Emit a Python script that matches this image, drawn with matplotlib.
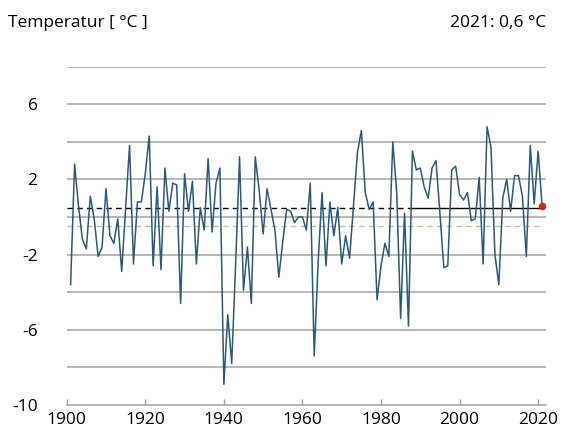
import numpy as np
import matplotlib
matplotlib.use("Agg")
from matplotlib import pyplot as plt

# January mean temperature, one value per year
years = np.arange(1901, 2022)
temps = [
    -3.6, 2.8, 0.6, -1.2, -1.7, 1.1, -0.1, -2.1, -1.6, 1.5,
    -1.0, -1.4, -0.1, -2.9, 0.5, 3.8, -2.5, 0.8, 0.8, 2.3,
    4.3, -2.6, 1.6, -2.8, 2.6, 0.3, 1.8, 1.7, -4.6, 2.3,
    0.3, 1.9, -2.5, 0.5, -0.7, 3.1, -0.8, 1.8, 2.6, -8.9,
    -5.2, -7.8, -2.5, 3.2, -3.9, -1.6, -4.6, 3.2, 1.4, -0.9,
    1.5, 0.4, -0.7, -3.2, -1.3, 0.4, 0.3, -0.3, 0.0, 0.0,
    -0.7, 1.8, -7.4, -2.4, 1.3, -2.6, 0.8, -1.0, 0.5, -2.5,
    -1.0, -2.2, 0.6, 3.4, 4.6, 1.3, 0.4, 0.8, -4.4, -2.6,
    -1.4, -2.1, 4.0, 1.3, -5.4, 0.2, -5.8, 3.5, 2.5, 2.6,
    1.6, 1.0, 2.6, 3.0, 0.2, -2.7, -2.6, 2.5, 2.7, 1.2,
    0.9, 1.3, -0.2, -0.1, 2.1, -2.5, 4.8, 3.7, -2.0, -3.6,
    1.0, 2.0, 0.3, 2.2, 2.2, 1.1, -2.1, 3.8, 0.7, 3.5,
    0.6,
]
mean_recent = 0.45   # black reference line
mean_old = -0.5      # beige reference line

xticks = [1900, 1920, 1940, 1960, 1980, 2000, 2020]
ylabels = {6: "6", 2: "2", -2: "-2", -6: "-6", -10: "-10"}

plt.rcParams["font.family"] = ["Open Sans", "DejaVu Sans"]

fig = plt.figure(figsize=(5.62, 4.44), dpi=100)
ax = fig.add_axes([0.1187, 0.0878, 0.8528, 0.7624])

ax.set_xlim(1900, 2022)
ax.set_ylim(-10, 8.0)

# horizontal grid
for v in range(-8, 9, 2):
    ax.axhline(v, color="#a3a3a3", lw=1.1, zorder=1)

# reference means
ax.plot([1900, 1987.5], [mean_recent, mean_recent], color="black", lw=1.0,
        dashes=(4, 3), zorder=2)
ax.plot([1987.5, 2020.2], [mean_recent, mean_recent], color="black", lw=1.0,
        zorder=2)
ax.plot([1900, 2020.3], [mean_old, mean_old], color="#cdb9a0", lw=1.0,
        dashes=(4, 3), zorder=2)

ax.plot(years, temps, color="#2e5877", lw=1.1, zorder=3)
ax.plot(years[-1], temps[-1], "o", color="#c62a2a", ms=4.5, zorder=4)

for s in ["top", "right", "left"]:
    ax.spines[s].set_visible(False)
ax.spines["bottom"].set_color("#a3a3a3")
ax.spines["bottom"].set_linewidth(1.1)

ax.set_xticks(xticks)
ax.tick_params(axis="x", direction="in", length=4, width=1, color="#a3a3a3",
               labelsize=12.5, pad=5)
ax.set_yticks(list(ylabels.keys()))
ax.set_yticklabels(list(ylabels.values()))
ax.tick_params(axis="y", length=0, labelsize=12.5, pad=21)

fig.text(0.014, 0.948, "Temperatur [ °C ]", fontsize=12.5, ha="left", va="center")
fig.text(0.972, 0.948, "2021: 0,6 °C", fontsize=12.5, ha="right", va="center")

fig.savefig("out.png", dpi=100)
